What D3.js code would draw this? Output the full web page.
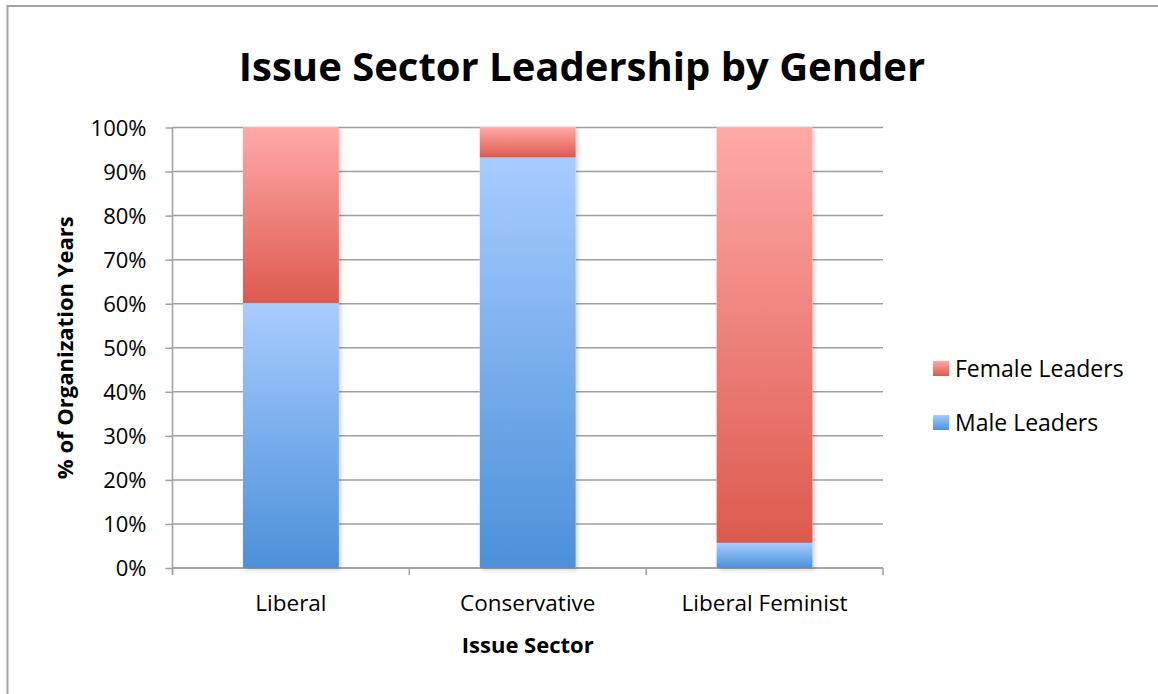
<!DOCTYPE html>
<html>
<head>
<meta charset="utf-8">
<script src="https://cdn.jsdelivr.net/npm/d3@7"></script>
<style>
  body { margin: 0; background: #fff; }
  svg { display: block; font-family: "Open Sans", "Noto Sans", sans-serif; }
</style>
</head>
<body>
<div id="chart"></div>
<script>
// data
var sectors = ["Liberal", "Conservative", "Liberal Feminist"];
var maleLeaders = [60.1, 93.2, 5.7];
var femaleLeaders = [39.9, 6.8, 94.3];
var yTicks = [0, 10, 20, 30, 40, 50, 60, 70, 80, 90, 100];
var seriesNames = ["Female Leaders", "Male Leaders"];

var W = 1158, H = 694;
var margin = {top: 127.5, left: 172.5, right: 275, bottom: 126};
var width = W - margin.left - margin.right,
    height = H - margin.top - margin.bottom;

var svg = d3.select("#chart").append("svg")
    .attr("width", W)
    .attr("height", H);

// gradients
var defs = svg.append("defs");
function grad(id, top, bottom) {
    var g = defs.append("linearGradient").attr("id", id)
        .attr("x1", 0).attr("y1", 0).attr("x2", 0).attr("y2", 1);
    g.append("stop").attr("offset", "0%").attr("stop-color", top);
    g.append("stop").attr("offset", "100%").attr("stop-color", bottom);
}
grad("gFemale", "#ffa9a7", "#dc5a4e");
grad("gMale", "#a8ccff", "#4b90d9");
var f = defs.append("filter").attr("id", "shadow")
    .attr("x", "-10%").attr("y", "-5%").attr("width", "130%").attr("height", "115%");
f.append("feDropShadow").attr("dx", 2).attr("dy", 2).attr("stdDeviation", 2)
    .attr("flood-color", "#000").attr("flood-opacity", 0.18);

// outer frame
svg.append("path")
    .attr("d", "M7.5," + H + "V6H" + W)
    .attr("fill", "none").attr("stroke", "#a3a3a3").attr("stroke-width", 2);

var g = svg.append("g")
    .attr("transform", "translate(" + margin.left + "," + margin.top + ")");

var x = d3.scaleBand().domain(sectors).range([0, width]).paddingInner(0.595).paddingOuter(0.2975);
var y = d3.scaleLinear().domain([0, 100]).range([height, 0]);

// gridlines
g.append("g").selectAll("line").data(yTicks).join("line")
    .attr("x1", 0).attr("x2", width)
    .attr("y1", function (d) { return y(d); })
    .attr("y2", function (d) { return y(d); })
    .attr("stroke", "#a0a0a0").attr("stroke-width", 1.5);

// y axis
var yAxis = g.append("g")
    .call(d3.axisLeft(y).tickValues(yTicks).tickSize(7).tickPadding(19)
        .tickFormat(function (d) { return d + "%"; }));
yAxis.select(".domain").attr("stroke", "#a0a0a0").attr("stroke-width", 1.5)
    .attr("d", "M0,0V" + (height + 7));
yAxis.selectAll(".tick line").attr("stroke", "#a0a0a0").attr("stroke-width", 1.5);
yAxis.selectAll("text").attr("font-size", 22).attr("fill", "#000")
    .attr("font-family", "Open Sans, sans-serif").attr("dy", "0.36em");

// x axis
var bandStep = width / sectors.length;
var xAxis = g.append("g").attr("transform", "translate(0," + height + ")");
xAxis.append("line").attr("x1", 0).attr("x2", width)
    .attr("stroke", "#a0a0a0").attr("stroke-width", 1.5);
xAxis.selectAll(".xt").data(d3.range(sectors.length + 1)).join("line")
    .attr("x1", function (i) { return i * bandStep; })
    .attr("x2", function (i) { return i * bandStep; })
    .attr("y1", 0).attr("y2", 7)
    .attr("stroke", "#a0a0a0").attr("stroke-width", 1.5);
xAxis.selectAll("text").data(sectors).join("text")
    .attr("x", function (d) { return x(d) + x.bandwidth() / 2; })
    .attr("y", 43)
    .attr("text-anchor", "middle")
    .attr("font-size", 22.5)
    .text(function (d) { return d; });

// stacked bars
var rows = sectors.map(function (s, i) {
    return {sector: s, male: maleLeaders[i], female: femaleLeaders[i]};
});
var stack = d3.stack().keys(["male", "female"])(rows);
var fills = {male: "url(#gMale)", female: "url(#gFemale)"};

// shadow behind whole bar
g.append("g").selectAll("rect").data(rows).join("rect")
    .attr("x", function (d) { return x(d.sector); })
    .attr("y", function (d) { return y(d.male + d.female); })
    .attr("width", x.bandwidth())
    .attr("height", function (d) { return y(0) - y(d.male + d.female); })
    .attr("fill", "#fff")
    .attr("filter", "url(#shadow)");

g.append("g").selectAll("g").data(stack).join("g")
    .attr("fill", function (s) { return fills[s.key]; })
    .selectAll("rect").data(function (s) { return s; }).join("rect")
    .attr("x", function (d) { return x(d.data.sector); })
    .attr("y", function (d) { return y(d[1]); })
    .attr("width", x.bandwidth())
    .attr("height", function (d) { return y(d[0]) - y(d[1]); });

// title
svg.append("text")
    .attr("x", 582).attr("y", 81)
    .attr("text-anchor", "middle")
    .attr("font-size", 40).attr("font-weight", "bold")
    .text("Issue Sector Leadership by Gender");

// axis titles
svg.append("text")
    .attr("x", margin.left + width / 2).attr("y", 653)
    .attr("text-anchor", "middle")
    .attr("font-size", 22).attr("font-weight", "bold")
    .text("Issue Sector");

svg.append("text")
    .attr("transform", "translate(73," + (margin.top + height / 2) + ") rotate(-90)")
    .attr("text-anchor", "middle")
    .attr("font-size", 22).attr("font-weight", "bold")
    .text("% of Organization Years");

// legend
var legend = svg.append("g").attr("transform", "translate(933,361)");
var lg = legend.selectAll("g").data(seriesNames).join("g")
    .attr("transform", function (d, i) { return "translate(0," + (i * 54) + ")"; });
lg.append("rect").attr("width", 16).attr("height", 15)
    .attr("fill", function (d, i) { return i === 0 ? "url(#gFemale)" : "url(#gMale)"; });
lg.append("text").attr("x", 22).attr("y", 16)
    .attr("font-size", 23)
    .text(function (d) { return d; });
</script>
</body>
</html>
